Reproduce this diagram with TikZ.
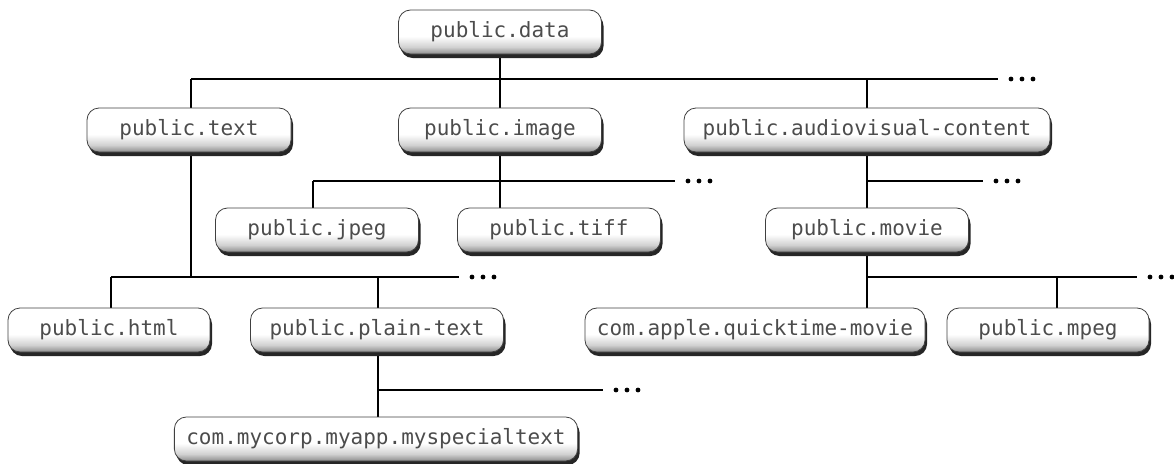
\documentclass[tikz,border=0pt]{standalone}
\usepackage{fontspec}
\setmonofont{DejaVu Sans Mono}
\usetikzlibrary{shadows}

\pgfdeclareverticalshading{utishade}{100bp}{color(0bp)=(black!45); color(25bp)=(black!45);
  color(33bp)=(black!18); color(45bp)=(white); color(100bp)=(white)}
\tikzset{
  utibox/.style={draw=black!75, line width=0.8pt, rounded corners=12pt,
    minimum height=44pt, minimum width=203pt, inner xsep=12pt,
    shading=utishade,
    text=black!70, font=\ttfamily\fontsize{21}{24}\selectfont,
    drop shadow={shadow xshift=2pt, shadow yshift=-4pt, fill=black!85, opacity=1}},
  link/.style={line width=1.6pt, black}
}
\newcommand{\moredots}[1]{\fill (#1) ++(13,0) circle[radius=2.4pt] ++(11,0) circle[radius=2.4pt] ++(11,0) circle[radius=2.4pt];}

\begin{document}
\begin{tikzpicture}[x=1pt,y=-1pt]
        \useasboundingbox (0,0) rectangle (1174,463);
        % junctions
        \coordinate (top1) at (191,79);
        \coordinate (top2) at (998,79);
        \coordinate (img1) at (313,181);
        \coordinate (img2) at (675,181);
        \coordinate (av2) at (983,181);
        \coordinate (txt1) at (111,277);
        \coordinate (txt2) at (378,277);
        \coordinate (txt3) at (459,277);
        \coordinate (mov1) at (1057,277);
        \coordinate (mov2) at (1137,277);
        \coordinate (pln1) at (378,390);
        \coordinate (pln2) at (603,390);
        % connectors
        \draw[link] (500,32) -- (500,79);
        \draw[link] (top1) -- (top2);
        \draw[link] (top1) -- (191,130);
        \draw[link] (500,79) -- (500,130);
        \draw[link] (867,79) -- (867,130);
        \draw[link] (191,130) -- (191,277);
        \draw[link] (txt1) -- (txt3);
        \draw[link] (txt1) -- (111,330);
        \draw[link] (txt2) -- (378,330);
        \draw[link] (500,130) -- (500,230);
        \draw[link] (img1) -- (img2);
        \draw[link] (img1) -- (313,230);
        \draw[link] (867,130) -- (867,330);
        \draw[link] (867,181) -- (av2);
        \draw[link] (867,277) -- (mov2);
        \draw[link] (mov1) -- (1057,330);
        \draw[link] (378,330) -- (378,439);
        \draw[link] (pln1) -- (pln2);
        \moredots{top2}
        \moredots{img2}
        \moredots{av2}
        \moredots{txt3}
        \moredots{mov2}
        \moredots{pln2}
        % boxes
        \node[utibox] (data) at (500,32) {public.data};
        \node[utibox, minimum width=204pt] (text) at (189,130) {public.text};
        \node[utibox] (image) at (500,130) {public.image};
        \node[utibox, minimum width=366pt] (av) at (867,130) {public.audiovisual-content};
        \node[utibox] (jpeg) at (317,230) {public.jpeg};
        \node[utibox] (tiff) at (559,230) {public.tiff};
        \node[utibox] (movie) at (867,230) {public.movie};
        \node[utibox, minimum width=202pt] (html) at (109,330) {public.html};
        \node[utibox, minimum width=253pt] (plain) at (377,330) {public.plain-text};
        \node[utibox, minimum width=340pt] (qt) at (755,330) {com.apple.quicktime-movie};
        \node[utibox, minimum width=202pt] (mpeg) at (1048,330) {public.mpeg};
        \node[utibox, minimum width=402pt] (special) at (376,439) {com.mycorp.myapp.myspecialtext};
    \end{tikzpicture}
\end{document}
